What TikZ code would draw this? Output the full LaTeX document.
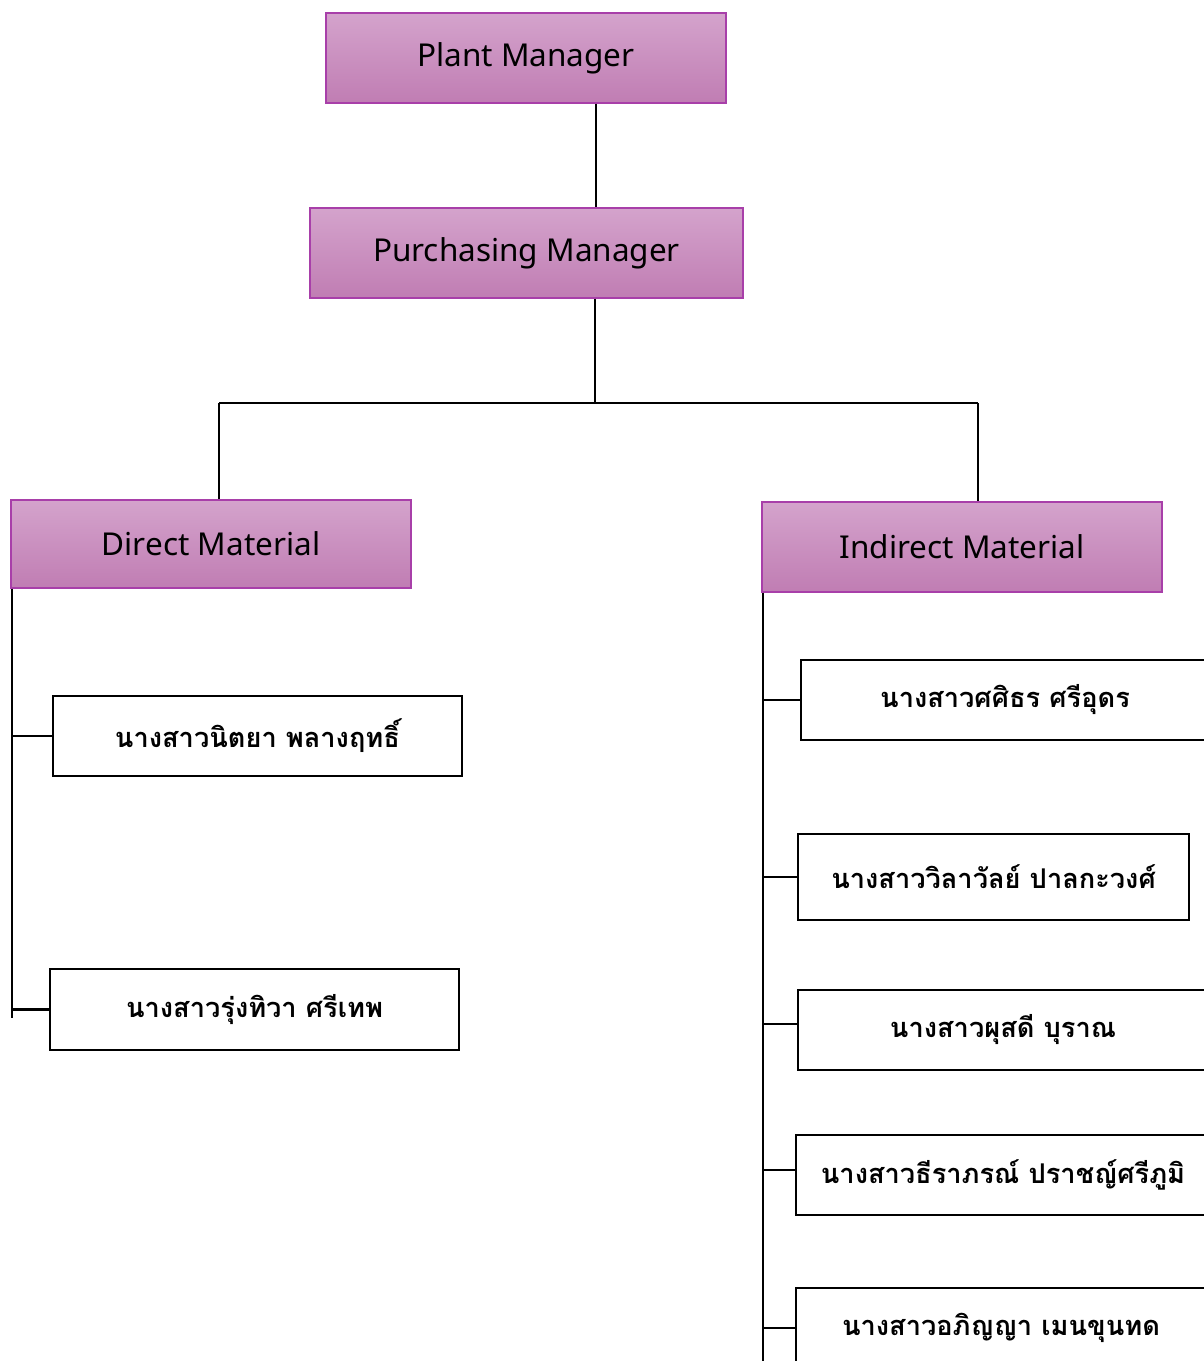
\documentclass[tikz,border=0pt]{standalone}
\usepackage{fontspec}
\setmainfont{Noto Sans}
\newfontfamily\thaifont[Script=Thai]{Loma}
\usetikzlibrary{calc}

\definecolor{boxtop}{HTML}{D4A3CC}
\definecolor{boxbot}{HTML}{C07DB3}
\definecolor{boxline}{HTML}{A83FA9}

\tikzset{
  headbox/.style = {rectangle, draw=boxline, line width=1.3pt, top color=boxtop, bottom color=boxbot,
                    minimum height=90pt, font=\fontsize{31.5}{36}\selectfont, inner sep=0pt},
  namebox/.style = {rectangle, draw=black, line width=2.8pt, fill=white, minimum height=80pt,
                    font=\thaifont\bfseries\fontsize{27.2}{31}\selectfont, inner sep=0pt},
  link/.style = {draw=black, line width=2.8pt}
}

\begin{document}
\begin{tikzpicture}[x=1pt, y=-1pt]
  \useasboundingbox (0,0) rectangle (1204,1361);
  \clip (0,0) rectangle (1204,1361);

  % top of the chart
  \node[headbox, minimum width=400pt] (plant) at (526,58) {Plant Manager};
  \node[headbox, minimum width=433pt] (purch) at (526.5,253) {Purchasing Manager};
  \node[headbox, minimum width=400pt, minimum height=88pt] (direct) at (211,544) {Direct Material};
  \node[headbox, minimum width=400pt] (indirect) at (962,547) {Indirect Material};

  % staff
  \node[namebox, minimum width=409pt] (d1) at (257.5,736) {นางสาวนิตยา พลางฤทธิ์};
  \node[namebox, minimum width=409pt, minimum height=81pt] (d2) at (254.5,1009.5) {นางสาวรุ่งทิวา ศรีเทพ};

  \node[namebox, minimum width=408pt] (i1) at (1005,700) {นางสาวศศิธร ศรีอุดร};
  \node[namebox, minimum width=391pt, minimum height=86pt] (i2) at (993.5,877) {นางสาววิลาวัลย์ ปาลกะวงศ์};
  \node[namebox, minimum width=410pt] (i3) at (1003,1030) {นางสาวผุสดี บุราณ};
  \node[namebox, minimum width=414pt] (i4) at (1003,1175) {นางสาวธีราภรณ์ ปราชญ์ศรีภูมิ};
  \node[namebox, minimum width=410pt] (i5) at (1001,1328) {นางสาวอภิญญา เมนขุนทด};

  \coordinate (fork) at (595,403);
  \coordinate (forkL) at (219,403);
  \coordinate (forkR) at (978,403);
  \coordinate (trunkL) at (12,1018);
  \coordinate (trunkR) at (763,1361);

  % connectors
  \draw[link] (plant.south -| 596,0) -- (purch.north -| 596,0);
  \draw[link] (purch.south -| fork) -- (fork);
  \draw[link] (forkL) -- (forkR);
  \draw[link] (forkL) -- (direct.north -| forkL);
  \draw[link] (forkR) -- (indirect.north -| forkR);

  \draw[link] (direct.south -| trunkL) -- (trunkL);
  \draw[link] (trunkL |- d1.west) -- (d1.west);
  \draw[link] (trunkL |- d2.west) -- (d2.west);

  \draw[link] (indirect.south -| trunkR) -- (trunkR);
  \foreach \n/\dy in {i1/0,i2/0,i3/-6,i4/-5,i5/0}
    \draw[link] (trunkR |- {$(\n.west)+(0,\dy)$}) -- ($(\n.west)+(0,\dy)$);
\end{tikzpicture}
\end{document}
